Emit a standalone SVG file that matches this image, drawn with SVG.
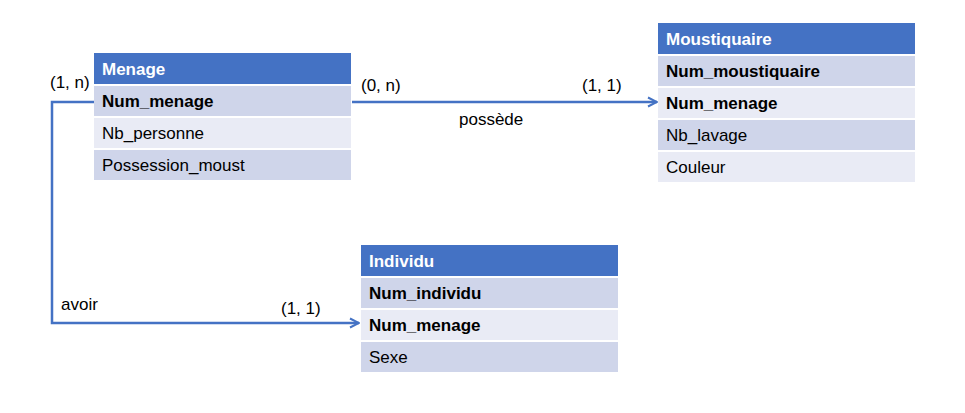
<svg xmlns="http://www.w3.org/2000/svg" width="965" height="413" viewBox="0 0 965 413">
  <defs>
    <style>
      text { font-family: "Liberation Sans", Arial, sans-serif; font-size: 17px; fill: #000; }
      .hd { fill: #4472C4; }
      .dk { fill: #CFD5EA; }
      .lt { fill: #E9EBF5; }
      .ht { fill: #fff; font-weight: bold; }
      .b { font-weight: bold; }
      .conn { fill: none; stroke: #4472C4; stroke-width: 2.5; }
    </style>
    <marker id="arr" viewBox="0 0 12 12" refX="11" refY="6" markerWidth="12" markerHeight="12" markerUnits="userSpaceOnUse" orient="auto">
      <path d="M2,1.5 L11,6 L2,10.5" fill="none" stroke="#4472C4" stroke-width="2"/>
    </marker>
  </defs>
  <rect width="965" height="413" fill="#fff"/>

  <g id="connectors">
    <path class="conn" d="M352,102 H657" marker-end="url(#arr)"/>
    <path class="conn" d="M94,102 H52 V323 H359" marker-end="url(#arr)"/>
    <text x="361" y="91">(0, n)</text>
    <text x="582" y="91">(1, 1)</text>
    <text x="459" y="125">possède</text>
    <text x="50" y="88">(1, n)</text>
    <text x="61" y="310">avoir</text>
    <text x="281" y="314">(1, 1)</text>
  </g>

  <g id="menage">
    <rect class="hd" x="94" y="53" width="257" height="31"/>
    <rect class="dk" x="94" y="86" width="257" height="30"/>
    <rect class="lt" x="94" y="118" width="257" height="30"/>
    <rect class="dk" x="94" y="150" width="257" height="30"/>
    <text class="ht" x="102" y="75">Menage</text>
    <text class="b" x="102" y="107">Num_menage</text>
    <text x="102" y="139">Nb_personne</text>
    <text x="102" y="171">Possession_moust</text>
  </g>

  <g id="moustiquaire">
    <rect class="hd" x="658" y="23" width="257" height="31"/>
    <rect class="dk" x="658" y="56" width="257" height="30"/>
    <rect class="lt" x="658" y="88" width="257" height="30"/>
    <rect class="dk" x="658" y="120" width="257" height="30"/>
    <rect class="lt" x="658" y="152" width="257" height="30"/>
    <text class="ht" x="666" y="45">Moustiquaire</text>
    <text class="b" x="666" y="77">Num_moustiquaire</text>
    <text class="b" x="666" y="109">Num_menage</text>
    <text x="666" y="141">Nb_lavage</text>
    <text x="666" y="173">Couleur</text>
  </g>

  <g id="individu">
    <rect class="hd" x="361" y="245" width="257" height="31"/>
    <rect class="dk" x="361" y="278" width="257" height="30"/>
    <rect class="lt" x="361" y="310" width="257" height="30"/>
    <rect class="dk" x="361" y="342" width="257" height="30"/>
    <text class="ht" x="369" y="267">Individu</text>
    <text class="b" x="369" y="299">Num_individu</text>
    <text class="b" x="369" y="331">Num_menage</text>
    <text x="369" y="363">Sexe</text>
  </g>
</svg>
